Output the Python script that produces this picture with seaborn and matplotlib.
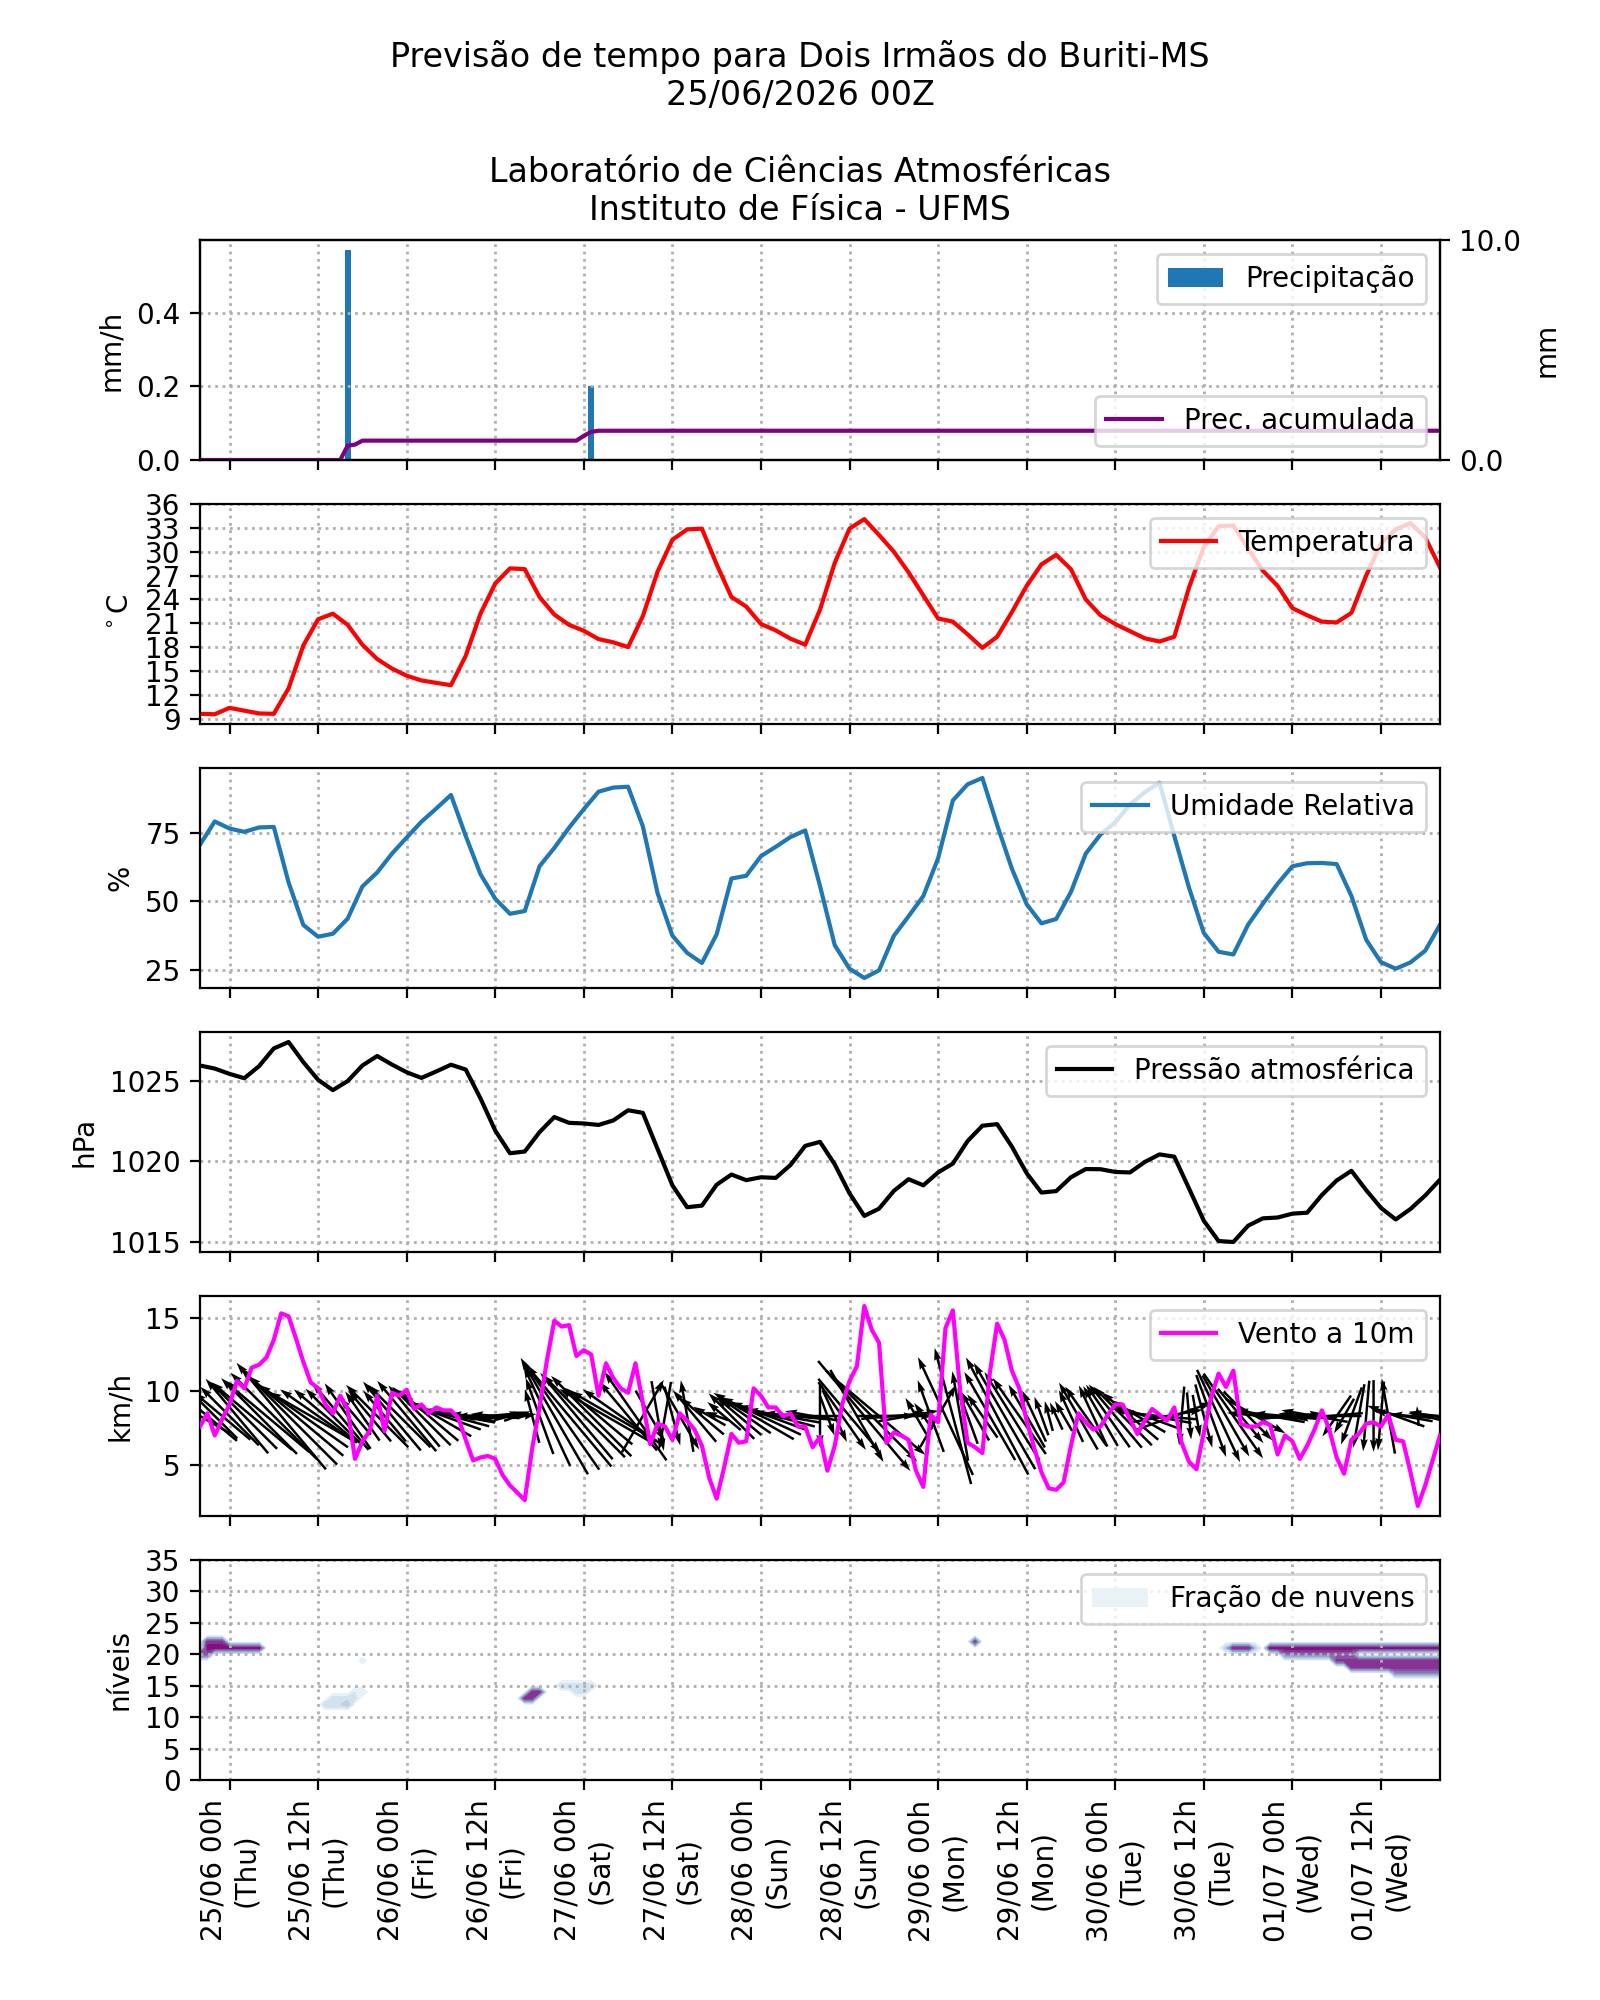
import numpy as np
import pandas as pd
import matplotlib
matplotlib.use("Agg")
import matplotlib.pyplot as plt
from matplotlib.patches import Patch
from matplotlib.ticker import FormatStrFormatter
import seaborn as sns

# hours relative to 25/06 00h (local time)
t2 = np.arange(-4, 165, 2)      # 2-hourly series
t1 = np.arange(-4, 165, 1)      # hourly series

temperatura = [
    9.6, 9.55, 10.35, 10.0, 9.65, 9.6, 12.8, 18.2, 21.5, 22.2,
    20.8, 18.3, 16.5, 15.3, 14.4, 13.8, 13.5, 13.2, 16.9, 22.2,
    26.0, 27.9, 27.8, 24.3, 22.1, 20.8, 20.05, 19.0, 18.6, 18.0,
    21.9, 27.5, 31.5, 32.8, 32.9, 28.4, 24.3, 23.1, 20.9, 20.1,
    19.05, 18.3, 22.7, 28.6, 32.9, 34.1, 32.1, 30.0, 27.4, 24.5,
    21.6, 21.2, 19.6, 17.9, 19.3, 22.4, 25.7, 28.4, 29.6, 27.8,
    24.0, 22.0, 20.9, 20.0, 19.1, 18.7, 19.3, 25.5, 30.6, 33.2,
    33.3, 30.4, 27.6, 25.7, 22.9, 22.0, 21.2, 21.1, 22.3, 27.0,
    31.0, 32.8, 33.6, 31.8, 28.0]

umidade = [
    70.8, 79.3, 76.7, 75.5, 77.1, 77.3, 57, 41.4, 37.1, 38.2,
    43.7, 55.5, 60.6, 67.5, 73.4, 79.2, 84, 89, 74, 60,
    51, 45.5, 46.5, 62.9, 69.6, 77, 83.8, 90.2, 91.7, 92,
    77.5, 53, 37.5, 31.2, 27.5, 38, 58.4, 59.4, 66.6, 70,
    73.6, 76, 55.7, 34, 25.4, 22, 24.8, 37.4, 44.6, 52,
    65.8, 87, 92.9, 95.2, 78, 62, 49, 42, 43.6, 53.5,
    67.5, 74.5, 79, 85.5, 90, 93.5, 74, 55, 38.5, 31.6,
    30.6, 41.5, 49.2, 56.5, 62.9, 64, 64.1, 63.7, 52, 36,
    27.8, 25.4, 27.7, 32, 41.5]

pressao = [
    1025.94, 1025.75, 1025.42, 1025.15, 1025.9, 1027.0, 1027.4, 1026.15, 1025.05, 1024.41,
    1024.97, 1025.94, 1026.53, 1026.0, 1025.52, 1025.17, 1025.57, 1025.99, 1025.69, 1023.9,
    1021.9, 1020.49, 1020.6, 1021.8, 1022.74, 1022.38, 1022.34, 1022.25, 1022.53, 1023.16,
    1023.0, 1020.75, 1018.5, 1017.14, 1017.24, 1018.54, 1019.17, 1018.82, 1019.0, 1018.96,
    1019.76, 1020.95, 1021.2, 1019.8, 1018.0, 1016.6, 1017.05, 1018.15, 1018.88, 1018.5,
    1019.3, 1019.85, 1021.25, 1022.2, 1022.3, 1020.9, 1019.25, 1018.05, 1018.14, 1019.0,
    1019.51, 1019.5, 1019.33, 1019.3, 1019.95, 1020.42, 1020.28, 1018.3, 1016.3, 1015.04,
    1014.98, 1015.99, 1016.45, 1016.5, 1016.74, 1016.8, 1017.9, 1018.8, 1019.4, 1018.2,
    1017.1, 1016.38, 1017.03, 1017.87, 1018.85]

# wind speed (km/h), hourly
vento = [
    7.6, 8.5, 7.0, 8.1,
    9.1, 10.7, 10.2, 11.6, 11.8, 12.3, 13.5, 15.3, 15.1, 13.6,
    12.0, 10.6, 10.2, 9.1, 8.5, 9.7, 8.8, 5.4, 6.6, 7.3,
    9.7, 7.3, 9.9, 9.7, 10.1, 8.8, 9.1, 8.5, 8.9, 8.7,
    8.7, 8.2, 6.7, 5.3, 5.5, 5.6, 5.4, 4.3, 3.6, 3.1,
    2.6, 6.1, 8.9, 12.1, 14.8, 14.4, 14.5, 12.4, 12.8, 12.5,
    9.7, 11.9, 10.9, 10.2, 9.9, 11.9, 9.2, 6.4, 7.8, 7.6,
    6.7, 8.5, 8.0, 7.4, 6.3, 4.1, 2.7, 4.8, 7.1, 6.5,
    6.6, 10.2, 9.7, 8.9, 8.9, 8.3, 8.5, 7.6, 7.6, 6.2,
    6.9, 4.6, 6.3, 9.1, 10.7, 11.7, 15.8, 14.2, 13.3, 6.5,
    7.2, 7.0, 6.7, 4.6, 3.5, 8.4, 7.9, 14.3, 15.5, 10.0,
    6.5, 6.2, 5.8, 11.2, 14.6, 13.5, 11.4, 10.2, 8.0, 6.2,
    4.5, 3.4, 3.3, 3.8, 6.3, 8.5, 7.9, 7.4, 7.6, 8.4,
    9.1, 9.1, 8.1, 7.1, 8.0, 8.8, 8.4, 8.0, 8.9, 6.5,
    5.2, 4.7, 7.2, 9.6, 11.2, 10.3, 11.4, 7.8, 7.6, 7.6,
    7.9, 7.7, 5.7, 7.0, 6.6, 5.4, 6.3, 7.4, 8.7, 7.4,
    5.5, 4.4, 6.7, 7.1, 7.8, 7.9, 7.6, 8.4, 6.7, 6.6,
    4.5, 2.2, 3.6, 5.3, 7.0]

# direction the wind arrow points to (degrees, counterclockwise from east), hourly
vento_ang = [
    150, 140, 135, 140,
    135, 130, 135, 140, 135, 140, 135, 130, 135, 140,
    145, 150, 145, 140, 135, 130, 125, 130, 125, 130,
    135, 130, 130, 135, 130, 130, 135, 140, 150, 160,
    165, 170, 170, 175, 180, 185, 175, 10, 15, 20,
    10, 105, 110, 115, 120, 125, 130, 130, 135, 135,
    140, 150, 150, 145, 130, 125, 60, -60, -80, -100,
    -75, -60, 100, 130, 140, 150, 160, 140, 135, 140,
    145, 150, 155, 160, 165, 170, 175, 175, 180, 170,
    -90, -70, -65, -55, -50, -60, -50, -45, -40, 0,
    5, 0, 10, 120, 125, 110, 60, 115, 105, 100,
    110, 120, 125, 120, 118, 120, 122, 125, 120, 115,
    110, 105, 115, 120, 115, 120, 125, 115, 120, 125,
    130, 135, 140, 150, 160, 170, 175, 10, 20, -95,
    -85, -80, -75, -70, -65, -60, -55, -50, -45, -30,
    175, 170, 180, 175, 5, 180, 175, 170, 180, 185,
    -125, -120, -110, -100, -95, -90, -95, 100, 160, 170,
    175, 95, 165, 170, 175]

# precipitation
prec_t = [16, 49]
prec_mmh = [0.57, 0.20]
acum_t = [-4, 15, 16, 17, 18, 47, 48, 49, 50, 164]
acum_mm = [0.0, 0.0, 0.65, 0.70, 0.88, 0.88, 1.10, 1.28, 1.33, 1.33]

# cloud fraction: (start hour, end hour, model level, fraction)
nuv_t0 = [-4, -3, -3, 13, 14, 16, 17, 18, 40, 41, 45, 47, 101, 135, 136, 139, 141, 143, 150, 152, 158]
nuv_t1 = [-3, 4, -1, 15, 17, 16, 18, 18, 41, 42, 49, 48, 101, 135, 138, 139, 164, 152, 164, 164, 164]
nuv_lev = [20, 21, 22, 12, 13, 12, 14, 19, 13, 14, 15, 14, 22, 21, 21, 21, 21, 20, 19, 18, 17]
nuv_val = [0.8, 1.0, 0.9, 0.25, 0.2, 0.35, 0.15, 0.1, 0.9, 0.9, 0.25, 0.2, 0.9, 0.3, 0.95, 0.3, 1.0, 0.7, 0.9, 0.95, 0.6]

inicio = pd.Timestamp("2026-06-25 00:00")
tick_horas = np.arange(0, 157, 12)
tick_labels = [(inicio + pd.Timedelta(hours=int(h))).strftime("%d/%m %Hh\n(%a)") for h in tick_horas]

grid_kw = dict(linestyle=":", color="#b0b0b0", linewidth=1)

fig, axs = plt.subplots(6, 1, figsize=(8, 10), dpi=200, sharex=True)
fig.suptitle("Previsão de tempo para Dois Irmãos do Buriti-MS\n25/06/2026 00Z\n\n"
             "Laboratório de Ciências Atmosféricas\nInstituto de Física - UFMS", fontsize=12)

# 1 - precipitation
ax = axs[0]
ax.bar(prec_t, prec_mmh, width=0.8, color="#1f77b4", label="Precipitação")
ax.set_ylabel("mm/h")
ax.grid(True, **grid_kw)
ax.legend(loc="upper right")
ax2 = ax.twinx()
sns.lineplot(x=acum_t, y=acum_mm, ax=ax2, color="purple", label="Prec. acumulada")
ax2.set_ylim(0, 10)
ax2.set_yticks([0.0, 10.0])
ax2.yaxis.set_major_formatter(FormatStrFormatter("%.1f"))
ax2.set_ylabel("mm")
ax2.legend(loc="lower right")

# 2 - temperature
ax = axs[1]
sns.lineplot(x=t2, y=temperatura, ax=ax, color="red", label="Temperatura")
ax.set_yticks(np.arange(9, 37, 3))
ax.set_ylabel("$^\\circ$C")
ax.grid(True, **grid_kw)
ax.legend(loc="upper right")

# 3 - relative humidity
ax = axs[2]
sns.lineplot(x=t2, y=umidade, ax=ax, color="#1f77b4", label="Umidade Relativa")
ax.set_yticks([25, 50, 75])
ax.set_ylabel("%")
ax.grid(True, **grid_kw)
ax.legend(loc="upper right")

# 4 - pressure
ax = axs[3]
sns.lineplot(x=t2, y=pressao, ax=ax, color="black", label="Pressão atmosférica")
ax.set_yticks([1015, 1020, 1025])
ax.set_ylabel("hPa")
ax.grid(True, **grid_kw)
ax.legend(loc="upper right")

# 5 - wind
ax = axs[4]
vel = np.array(vento)
ang = np.deg2rad(vento_ang)
u = vel * np.cos(ang)
v = vel * np.sin(ang)
y_seta = np.full(len(t1), vel.mean())
ax.quiver(t1, y_seta, u, v, pivot="mid", scale=22, scale_units="inches",
          width=0.002, color="black", zorder=2)
sns.lineplot(x=t1, y=vento, ax=ax, color="magenta", label="Vento a 10m", zorder=3)
ax.set_yticks([5, 10, 15])
ax.set_ylabel("km/h")
ax.grid(True, **grid_kw)
ax.legend(loc="upper right")

# 6 - cloud fraction
ax = axs[5]
niveis = np.arange(0, 36)
campo = np.zeros((len(niveis), len(t1)))
for a, b, lev, val in zip(nuv_t0, nuv_t1, nuv_lev, nuv_val):
    campo[lev, a + 4:b + 5] = val
cmap = plt.get_cmap("BuPu")
lv = np.arange(0.05, 1.06, 0.1)
ax.contourf(t1, niveis, campo, levels=lv, cmap=cmap, vmin=0, vmax=1.15)
ax.set_ylim(0, 35)
ax.set_yticks(np.arange(0, 36, 5))
ax.set_ylabel("níveis")
ax.grid(True, **grid_kw)
ax.legend(handles=[Patch(facecolor=cmap(0.08), label="Fração de nuvens")], loc="upper right")

ax.set_xlim(t1[0], t1[-1])
ax.set_xticks(tick_horas)
ax.set_xticklabels(tick_labels, rotation=90)
for a in axs:
    a.set_xlabel("")

fig.savefig("out.png", dpi=200)
